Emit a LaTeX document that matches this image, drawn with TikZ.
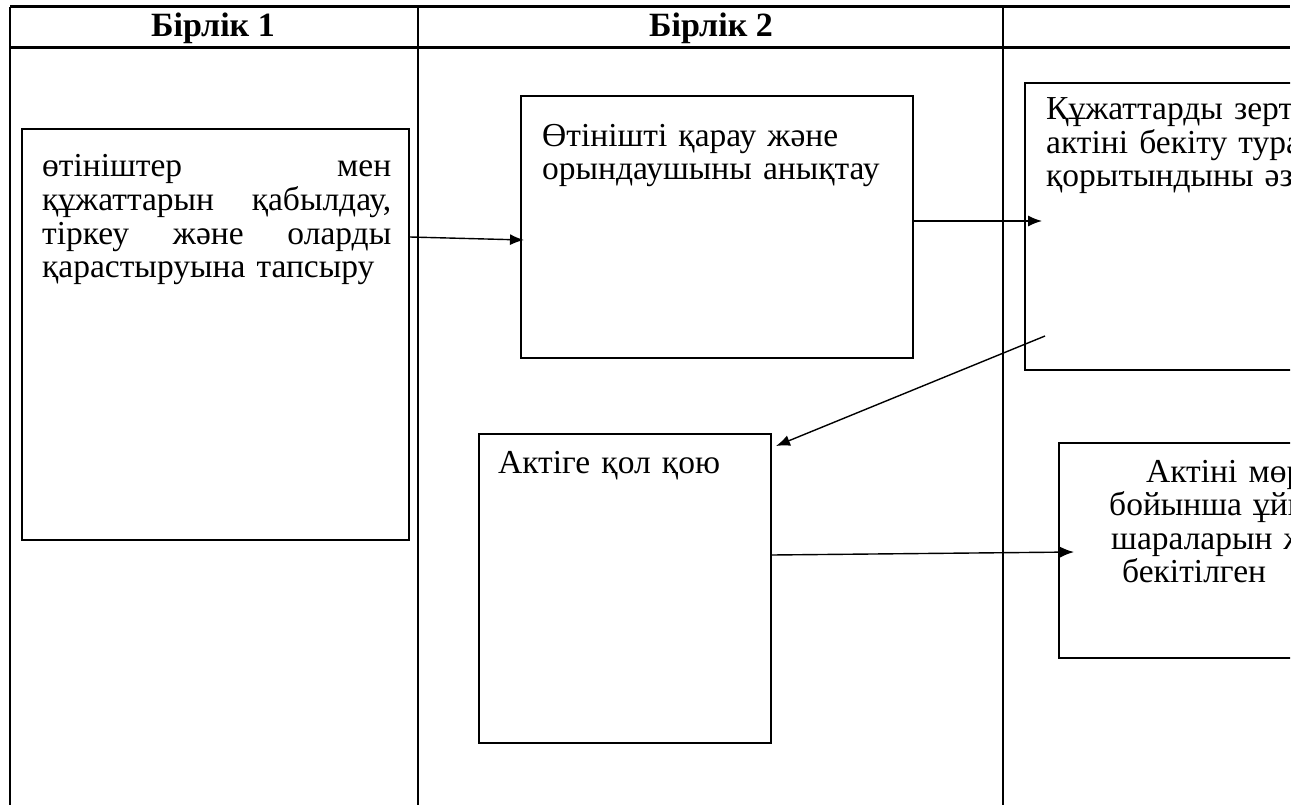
\documentclass[tikz,border=0pt]{standalone}
\usepackage{fontspec}
\setmainfont{Liberation Serif}
\usetikzlibrary{arrows.meta}
\tikzset{
  box/.style={draw, line width=1.4pt, inner sep=0pt},
  txt/.style={inner sep=0pt, anchor=base west, align=left, text width=360pt,
    font=\fontsize{33.5}{33.5}\selectfont},
  head/.style={inner sep=0pt, anchor=base, font=\bfseries\fontsize{34}{34}\selectfont},
  arr/.style={-{Latex[length=14pt,width=11pt]}, line width=1.4pt},
  rule/.style={line width=1.4pt},
  headrule/.style={line width=3pt}
}
\begin{document}
\begin{tikzpicture}[x=1pt,y=-1pt]
  \useasboundingbox (0,0) rectangle (1308,805);
  \clip (0,0) rectangle (1290,805);
  % table
  \draw[headrule] (10,7) -- (1290,7) (10,47.5) -- (1290,47.5);
  \draw[rule] (10,7) -- (10,805) (418,7) -- (418,805) (1003,7) -- (1003,805);
  \node[head] (h1) at (213,37) {Бірлік 1};
  \node[head] (h2) at (711,37) {Бірлік 2};
  % boxes
  \node[box, minimum width=387pt, minimum height=411pt] (b1) at (215.5,334.5) {};
  \node[box, minimum width=392pt, minimum height=262pt] (b2) at (717,227) {};
  \node[box, minimum width=375pt, minimum height=287pt] (b3) at (1212.5,226.5) {};
  \node[box, minimum width=292pt, minimum height=309pt] (b4) at (625,588.5) {};
  \node[box, minimum width=341pt, minimum height=215pt] (b5) at (1229.5,550.5) {};
  % texts
  \node[txt, text width=349pt] (t1) at (42,177)
    {өтініштер\hfill мен\\ құжаттарын\hfill қабылдау,\\ тіркеу\hfill және\hfill оларды\\ қарастыруына тапсыру};
  \node[txt] (t2) at (542,146.5) {Өтінішті қарау және\\ орындаушыны анықтау};
  \node[txt] (t3) at (1046,120) {Құжаттарды зерт\\ актіні бекіту тура\\ қорытындыны әз};
  \node[txt] (t4) at (498,473) {Актіге қол қою};
  \node[txt] (t5) at (1109,482)
    {\hspace*{37pt}Актіні мөр\\ бойынша ұйы\\ \hspace*{2pt}шараларын ж\\ \hspace*{13pt}бекітілген};
  % arrows
  \coordinate (a1) at (b1.east |- 0,237);
  \coordinate (a2) at (524,240);
  \coordinate (a3) at (b2.east |- 0,221);
  \coordinate (a4) at (1042,221);
  \coordinate (a5) at (1045,336);
  \coordinate (a6) at (776,446);
  \coordinate (a7) at (b4.east |- 0,555);
  \coordinate (a8) at (1074,552);
  \draw[arr] (a1) -- (a2);
  \draw[arr] (a3) -- (a4);
  \draw[arr] (a5) -- (a6);
  \draw[arr] (a7) -- (a8);
\end{tikzpicture}
\end{document}
